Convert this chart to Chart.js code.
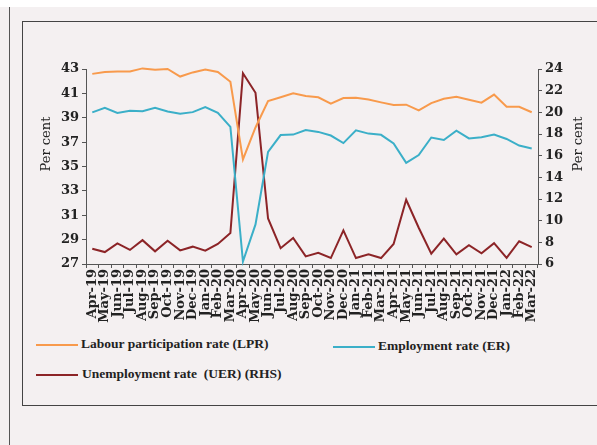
<!DOCTYPE html>
<html>
<head>
<meta charset="utf-8">
<script src="https://cdn.jsdelivr.net/npm/chart.js@4/dist/chart.umd.min.js"></script>
<style>
  html, body { margin: 0; padding: 0; }
  body { width: 597px; height: 445px; background: #fff; position: relative; overflow: hidden; }
  #page { position: absolute; left: 0; top: 7px; width: 597px; height: 438px; background: #f4f0f1; }
  #outerLine { position: absolute; left: 9px; top: 7px; width: 1px; height: 438px; background: #555; }
  #box { position: absolute; left: 22px; top: 21px; width: 600px; height: 383px; border: 1px solid #444; }
  #chartWrap { position: absolute; left: 0; top: 0; width: 597px; height: 330px; }
  .leg { position: absolute; font-family: "Liberation Serif", serif; font-weight: bold; font-size: 13.5px; color: #222; white-space: nowrap; }
  .leg i { position: absolute; height: 2px; width: 42px; }
</style>
</head>
<body>
<div id="page"></div>
<div id="outerLine"></div>
<div id="box"></div>
<div id="chartWrap"><canvas id="c" width="597" height="330"></canvas></div>

<div class="leg" style="left:36px; top:336px;"><i style="background:#f89a4c; top:8px; left:0;"></i><span style="margin-left:45px;">Labour participation rate (LPR)</span></div>
<div class="leg" style="left:333px; top:338px;"><i style="background:#3bafc8; top:8px; left:0;"></i><span style="margin-left:45px;">Employment rate (ER)</span></div>
<div class="leg" style="left:36px; top:366px;"><i style="background:#8c2427; top:8px; left:0;"></i><span style="margin-left:46px;">Unemployment rate &nbsp;(UER) (RHS)</span></div>

<script>
const months = ["Apr-19", "May-19", "Jun-19", "Jul-19", "Aug-19", "Sep-19", "Oct-19", "Nov-19", "Dec-19",
  "Jan-20", "Feb-20", "Mar-20", "Apr-20", "May-20", "Jun-20", "Jul-20", "Aug-20", "Sep-20", "Oct-20",
  "Nov-20", "Dec-20", "Jan-21", "Feb-21", "Mar-21", "Apr-21", "May-21", "Jun-21", "Jul-21", "Aug-21",
  "Sep-21", "Oct-21", "Nov-21", "Dec-21", "Jan-22", "Feb-22", "Mar-22"];

const lpr = [42.6, 42.75, 42.8, 42.8, 43.05, 42.93, 43.0, 42.38, 42.72, 42.96, 42.75, 41.95,
  35.58, 38.2, 40.37, 40.68, 41.0, 40.78, 40.68, 40.16, 40.62, 40.65, 40.5, 40.26,
  40.04, 40.07, 39.6, 40.2, 40.56, 40.72, 40.48, 40.24, 40.9, 39.9, 39.9, 39.45];

const er = [39.44, 39.82, 39.4, 39.58, 39.54, 39.82, 39.52, 39.32, 39.46, 39.88, 39.4, 38.25,
  27.2, 30.25, 36.2, 37.58, 37.62, 38.0, 37.84, 37.54, 36.92, 37.97, 37.7, 37.6,
  36.9, 35.3, 35.94, 37.38, 37.17, 37.94, 37.3, 37.4, 37.63, 37.26, 36.72, 36.48];

const uer = [7.41, 7.1, 7.9, 7.3, 8.2, 7.17, 8.15, 7.26, 7.6, 7.23, 7.85, 8.85,
  23.6, 21.8, 10.2, 7.46, 8.4, 6.7, 7.04, 6.55, 9.1, 6.55, 6.9, 6.55,
  7.85, 11.93, 9.35, 6.95, 8.35, 6.89, 7.74, 6.98, 7.92, 6.56, 8.1, 7.56];

const leftTicks = [27, 29, 31, 33, 35, 37, 39, 41, 43];
const rightTicks = [6, 8, 10, 12, 14, 16, 18, 20, 22, 24];

const AXIS = "#555";
const TXT = "#222";
const tickFont = { family: "DejaVu Serif", size: 13, weight: "bold" };

// "Per cent" titles sit above the axis middle in the original, so draw them by hand
const axisTitles = {
  id: "axisTitles",
  afterDraw(chart) {
    const ctx = chart.ctx;
    ctx.save();
    ctx.font = "13px 'DejaVu Serif'";
    ctx.fillStyle = TXT;
    ctx.textAlign = "center";
    ctx.textBaseline = "middle";
    for (const x of [47, 579]) {
      ctx.save();
      ctx.translate(x, 144);
      ctx.rotate(-Math.PI / 2);
      ctx.fillText("Per cent", 0, 0);
      ctx.restore();
    }
    ctx.restore();
  },
};

new Chart(document.getElementById("c"), {
  type: "line",
  data: {
    labels: months,
    datasets: [
      { label: "LPR", data: lpr, borderColor: "#f89a4c", yAxisID: "y", clip: false },
      { label: "ER", data: er, borderColor: "#3bafc8", yAxisID: "y", clip: false },
      { label: "UER", data: uer, borderColor: "#8c2427", yAxisID: "y1", clip: false },
    ],
  },
  options: {
    responsive: false,
    animation: false,
    layout: { padding: { left: 31, right: 0, top: 69, bottom: 0 } },
    elements: {
      line: { borderWidth: 2, tension: 0 },
      point: { radius: 0 },
    },
    plugins: { legend: { display: false }, tooltip: { enabled: false } },
    scales: {
      x: {
        offset: true,
        grid: { offset: true, drawOnChartArea: false, tickLength: 4, color: AXIS },
        border: { color: AXIS },
        ticks: { autoSkip: false, maxRotation: 90, minRotation: 90, padding: 1, color: TXT, font: tickFont },
        afterFit: (s) => { s.height = 66; },
      },
      y: {
        position: "left",
        min: 27, max: 43,
        afterBuildTicks: (s) => { s.ticks = leftTicks.map((v) => ({ value: v })); },
        grid: { drawOnChartArea: false, tickLength: 4, color: AXIS },
        border: { color: AXIS },
        ticks: { padding: 3, color: TXT, font: tickFont },
        afterFit: (s) => { s.width = 55; },
      },
      y1: {
        position: "right",
        min: 6, max: 24,
        afterBuildTicks: (s) => { s.ticks = rightTicks.map((v) => ({ value: v })); },
        grid: { drawOnChartArea: false, tickLength: 4, color: AXIS },
        border: { color: AXIS },
        ticks: { padding: 3, color: TXT, font: tickFont },
        afterFit: (s) => { s.width = 59; },
      },
    },
  },
  plugins: [axisTitles],
});
</script>
</body>
</html>
